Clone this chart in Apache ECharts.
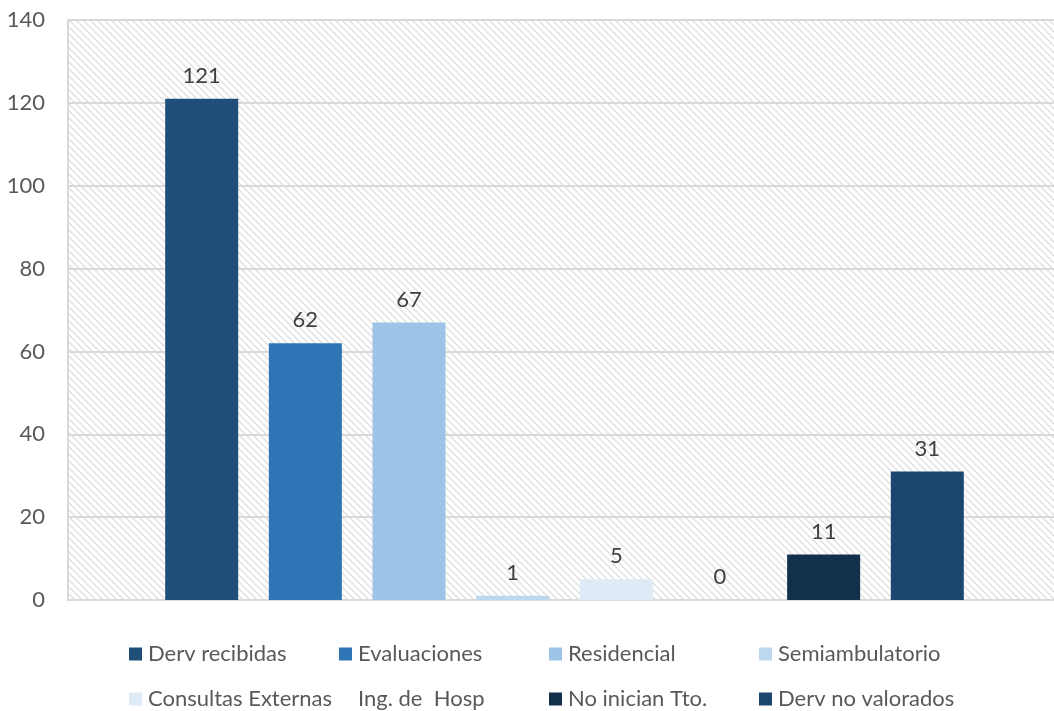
<!DOCTYPE html>
<html>
<head>
<meta charset="utf-8">
<script src="https://cdn.jsdelivr.net/npm/echarts@6/dist/echarts.min.js"></script>
<style>
  html, body { margin: 0; padding: 0; background: #ffffff; overflow: hidden; }
  #chart { width: 1061px; height: 711px; }
</style>
</head>
<body>
<div id="chart"></div>
<script>
// Derivaciones y su destino
const categories = ['Total'];
const seriesNames = ['Derv recibidas', 'Evaluaciones', 'Residencial', 'Semiambulatorio',
                     'Consultas Externas', 'Ing. de  Hosp', 'No inician Tto.', 'Derv no valorados'];
const seriesValues = [121, 62, 67, 1, 5, 0, 11, 31];
const seriesColors = ['#1f4e79', '#2e75b6', '#9dc3e6', '#bdd7ee',
                      '#deebf7', '#ffffff', '#12304c', '#1c4670'];
const yTicks = { min: 0, max: 140, interval: 20 };

const FONT = 'Lato';

// diagonal hatch tile for the plot background
function hatchTile() {
  const s = 7;
  const c = document.createElement('canvas');
  c.width = s; c.height = s;
  const g = c.getContext('2d');
  g.fillStyle = '#ffffff';
  g.fillRect(0, 0, s, s);
  g.strokeStyle = '#dedede';
  g.lineWidth = 1.3;
  g.beginPath();
  g.moveTo(-1, -1); g.lineTo(s + 1, s + 1);
  g.moveTo(-1, s - 1); g.lineTo(1, s + 1);
  g.moveTo(s - 1, -1); g.lineTo(s + 1, 1);
  g.stroke();
  return c;
}

const series = seriesNames.map((name, i) => ({
  name: name,
  type: 'bar',
  data: [seriesValues[i]],
  barWidth: 73,
  barGap: '42%',
  itemStyle: { color: seriesColors[i] },
  label: {
    show: true,
    position: 'top',
    distance: 12,
    color: '#404040',
    fontFamily: FONT,
    fontSize: 22
  }
}));

// legend: four columns of two rows, one component per entry
const legendCols = [129, 339, 549, 759];
const legendRows = [643, 688];
const legends = seriesNames.map((name, i) => ({
  orient: 'horizontal',
  left: legendCols[i % 4],
  top: legendRows[Math.floor(i / 4)],
  padding: 0,
  itemWidth: 13,
  itemHeight: 13,
  selectedMode: false,
  icon: 'rect',
  data: [name],
  textStyle: { color: '#595959', fontFamily: FONT, fontSize: 22, padding: [0, 0, 0, 1] }
}));

const chart = echarts.init(document.getElementById('chart'));
chart.setOption({
  animation: false,
  backgroundColor: '#ffffff',
  legend: legends,
  grid: {
    left: 68, right: 0, top: 20, bottom: 111,
    show: true,
    borderWidth: 0,
    backgroundColor: { image: hatchTile(), repeat: 'repeat' }
  },
  xAxis: {
    type: 'category',
    data: categories,
    axisLine: { show: true, lineStyle: { color: '#d9d9d9', width: 2 } },
    axisTick: { show: false },
    axisLabel: { show: false }
  },
  yAxis: {
    type: 'value',
    min: yTicks.min,
    max: yTicks.max,
    interval: yTicks.interval,
    axisLine: { show: true, lineStyle: { color: '#d9d9d9', width: 2 } },
    axisTick: { show: false },
    axisLabel: { margin: 23, color: '#595959', fontFamily: FONT, fontSize: 22 },
    splitLine: { show: true, lineStyle: { color: '#d9d9d9', width: 2 } }
  },
  series: series
});
</script>
</body>
</html>
